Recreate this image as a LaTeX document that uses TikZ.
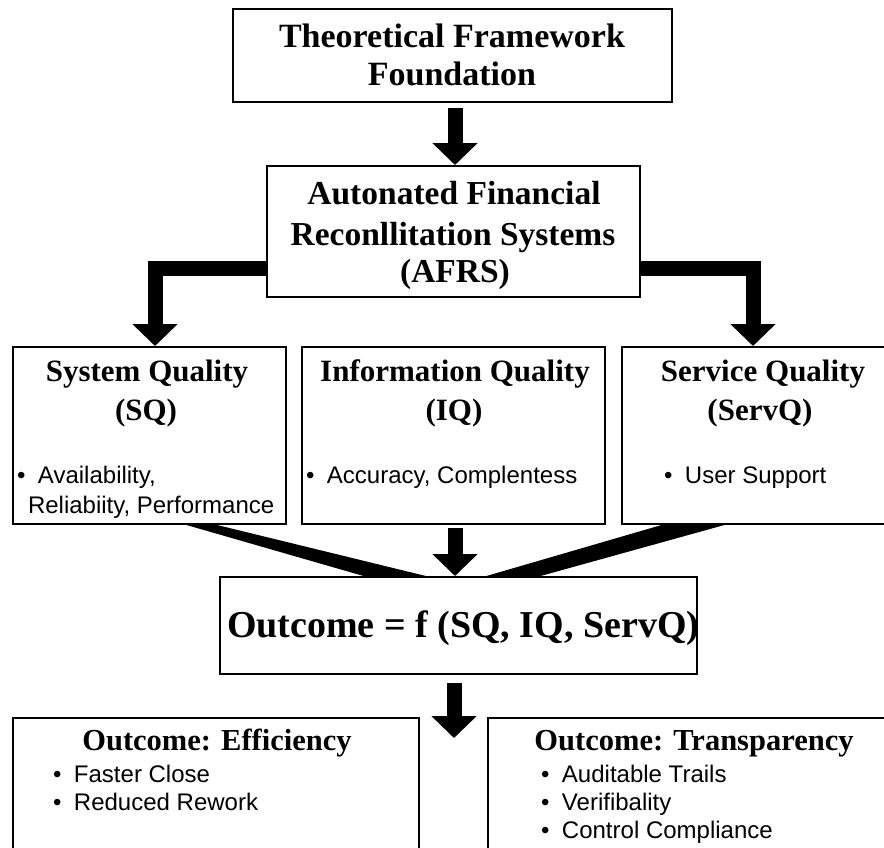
\documentclass[tikz,border=0pt]{standalone}
\usepackage{fontspec}
\setmainfont{Liberation Serif}
\newfontfamily\listfont{Liberation Sans}
\usetikzlibrary{arrows.meta,calc}
% bold serif heading at a given size
\newcommand\hdfont[1]{\fontsize{#1}{#1}\selectfont\bfseries}
% bullet followed by its text
\newcommand\bul[1]{\makebox[21pt][l]{•}#1}
\begin{document}
\begin{tikzpicture}[x=1pt,y=-1pt,
  box/.style={draw=black, line width=2.8pt, inner sep=0pt, outer sep=0pt,
              anchor=north west, fill=white},
  lbl/.style={inner sep=0pt, outer sep=0pt, anchor=base},
  item/.style={inner sep=0pt, outer sep=0pt, anchor=base west,
               font=\listfont\fontsize{24}{28}\selectfont},
  bigarrow/.style={line width=15pt, line join=miter,
                   -{Triangle[width=44pt,length=22pt]}}
]
\fill[white] (0,0) rectangle (884,847);
\useasboundingbox (0,0) rectangle (884,847);
\clip (0,0) rectangle (884,847);

% boxes
\node[box, minimum width=439pt, minimum height=93pt]  (fw)    at (233,9)   {};
\node[box, minimum width=373pt, minimum height=131pt] (afrs)  at (267,166) {};
\node[box, minimum width=273pt, minimum height=177pt] (sq)    at (13,347)  {};
\node[box, minimum width=303pt, minimum height=177pt] (iq)    at (302,347) {};
\node[box, minimum width=282pt, minimum height=177pt] (servq) at (622,347) {};
\node[box, minimum width=477pt, minimum height=97pt]  (out)   at (220,577) {};
\node[box, minimum width=406pt, minimum height=132pt] (eff)   at (13,718)  {};
\node[box, minimum width=412pt, minimum height=132pt] (trans) at (488,718) {};

% connectors
\coordinate (topx) at (455,0);
\draw[bigarrow, shorten <=6pt, shorten >=1pt] (fw.south -| topx) -- (afrs.north -| topx);

\coordinate (lb) at (155,268);
\coordinate (rb) at (753,268);
\draw[bigarrow, shorten >=1pt] (afrs.west |- lb) -- (lb) -- (lb |- sq.north);
\draw[bigarrow, shorten >=1pt] (afrs.east |- rb) -- (rb) -- (rb |- servq.north);

\coordinate (midx) at (455,0);
\draw[bigarrow, shorten <=4pt, shorten >=1pt] (iq.south -| midx) -- (out.north -| midx);

\fill ([xshift=170pt]sq.south west) -- ([xshift=200pt]sq.south west)
   -- ([xshift=210pt]out.north west) -- ([xshift=147pt]out.north west) -- cycle;
\fill ([xshift=43pt]servq.south west) -- ([xshift=106pt]servq.south west)
   -- ([xshift=317pt]out.north west) -- ([xshift=263pt]out.north west) -- cycle;

\coordinate (split) at (454,738);
\draw[bigarrow, shorten <=9pt] (out.south -| split) -- (split);

% texts
\node[lbl, font=\hdfont{34}] (fw1) at (452,47) {Theoretical Framework};
\node[lbl, font=\hdfont{34}] (fw2) at (452,85) {Foundation};

\node[lbl, font=\hdfont{33.5}] (af1) at (454,204) {Autonated Financial};
\node[lbl, font=\hdfont{33.5}] (af2) at (453,245) {Reconllitation Systems};
\node[lbl, font=\hdfont{33.5}] (af3) at (455,282) {(AFRS)};

\node[lbl, font=\hdfont{31}] (sq1) at (147,381) {System Quality};
\node[lbl, font=\hdfont{31}] (sq2) at (146,420) {(SQ)};
\node[lbl, font=\hdfont{31}] (iq1) at (455,381) {Information Quality};
\node[lbl, font=\hdfont{31}] (iq2) at (454,420) {(IQ)};
\node[lbl, font=\hdfont{31}] (sv1) at (763,381) {Service Quality};
\node[lbl, font=\hdfont{31}] (sv2) at (760,420) {(ServQ)};

\node[item] (sqa) at (17,483)  {\bul{Availability,}};
\node[item] (sqb) at (28,513)  {Reliabiity, Performance};
\node[item] (iqa) at (306,483) {\bul{Accuracy, Complentess}};
\node[item] (sva) at (664,483) {\bul{User Support}};

\node[lbl, anchor=base west, font=\hdfont{38}] (form) at (227,637) {Outcome = f (SQ, IQ, ServQ)};

\node[lbl, font=\hdfont{30.5}] (ef1) at (217,750) {Outcome: Efficiency};
\node[item] (efa) at (53,782) {\bul{Faster Close}};
\node[item] (efb) at (53,810) {\bul{Reduced Rework}};

\node[lbl, font=\hdfont{30.5}] (tr1) at (694,750) {Outcome: Transparency};
\node[item] (tra) at (541,782) {\bul{Auditable Trails}};
\node[item] (trb) at (541,810) {\bul{Verifibality}};
\node[item] (trc) at (541,838) {\bul{Control Compliance}};
\end{tikzpicture}
\end{document}
